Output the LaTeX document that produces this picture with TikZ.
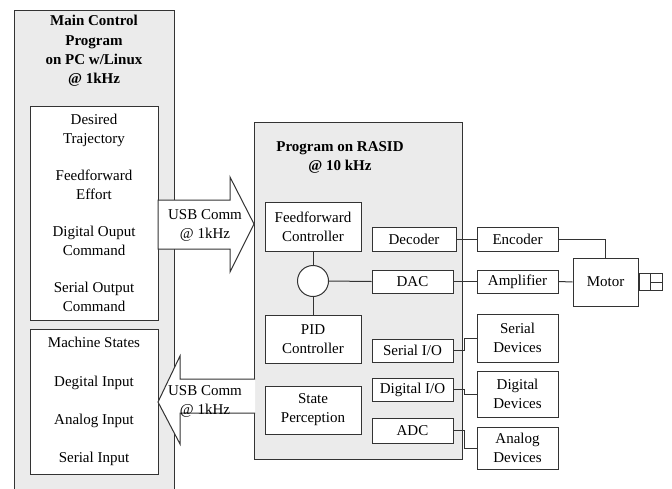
\documentclass[tikz,border=0pt]{standalone}
\usepackage{fontspec}
\setmainfont{Liberation Serif}
\usetikzlibrary{calc}
\definecolor{panelgray}{HTML}{EBEBEB}
\definecolor{edge}{HTML}{333333}
\begin{document}
\begin{tikzpicture}[x=1pt,y=-1pt,
  every node/.style={font=\fontsize{15}{19}\selectfont, inner sep=0pt, align=center},
  panel/.style={draw=edge, fill=panelgray, line width=1pt},
  blk/.style={draw=edge, fill=white, line width=1pt, rectangle},
  wire/.style={draw=edge, line width=1pt},
  usb/.style={draw=edge, fill=white, line width=1pt, line join=miter}]
\useasboundingbox[fill=white] (0,0) rectangle (672,488);

% PC side
\node[panel, minimum width=160, minimum height=490] (pc) at (94,255) {};
\node[font=\fontsize{15}{19.2}\selectfont\bfseries] (pctitle) at (94,51)
  {Main Control\\Program\\on PC w/Linux\\@ 1kHz};
\node[blk, minimum width=128, minimum height=214, font=\fontsize{15}{18.7}\selectfont] (cmds) at (94,213)
  {Desired\\Trajectory\\[18.7pt]Feedforward\\Effort\\[18.7pt]Digital Ouput\\Command\\[18.7pt]Serial Output\\Command};
\node[blk, minimum width=128, minimum height=145, font=\fontsize{15}{19.1}\selectfont] (states) at (94,401.5)
  {Machine States\\[19.1pt]Degital Input\\[19.1pt]Analog Input\\[19.1pt]Serial Input};

% RASID side
\node[panel, minimum width=208, minimum height=337] (rasid) at (358,290.5) {};
\node[font=\fontsize{15}{19}\selectfont\bfseries] (rtitle) at (340,157.5) {Program on RASID\\@ 10 kHz};

% USB links
\draw[usb] (158,200) -- (230,200) -- (230,177) -- (254,224) -- (230,272) -- (230,249) -- (158,249) -- cycle;
\node (usbout) at (205,225) {USB Comm\\@ 1kHz};
\draw[usb] (255,379) -- (180,379) -- (180,356) -- (158,402) -- (180,444) -- (180,413) -- (255,413);
\node (usbin) at (205,401.5) {USB Comm\\@ 1kHz};

% RASID blocks
\node[blk, minimum width=96, minimum height=49] (ff) at (313,226.5) {Feedforward\\Controller};
\node[draw=edge, fill=white, line width=1pt, circle, minimum size=31] (sum) at (313,281) {};
\node[blk, minimum width=96, minimum height=48] (pid) at (313,339) {PID\\Controller};
\node[blk, minimum width=96, minimum height=48] (sp) at (313,410) {State\\Perception};
\node[blk, minimum width=84, minimum height=24] (dec) at (414,239) {Decoder};
\node[blk, minimum width=81, minimum height=23] (dac) at (412.5,281.5) {DAC};
\node[blk, minimum width=81, minimum height=23] (sio) at (412.5,350.5) {Serial I/O};
\node[blk, minimum width=81, minimum height=23] (dio) at (412.5,389.5) {Digital I/O};
\node[blk, minimum width=81, minimum height=25] (adc) at (412.5,430.5) {ADC};

% Hardware
\node[blk, minimum width=81, minimum height=24] (enc) at (517.5,239) {Encoder};
\node[blk, minimum width=81, minimum height=23] (amp) at (517.5,281.5) {Amplifier};
\node[blk, minimum width=65, minimum height=48] (motor) at (605.5,282) {Motor};
\node[blk, minimum width=81, minimum height=48] (serdev) at (517.5,338) {Serial\\Devices};
\node[blk, minimum width=81, minimum height=46] (digdev) at (517.5,394) {Digital\\Devices};
\node[blk, minimum width=81, minimum height=42] (anadev) at (517.5,448) {Analog\\Devices};

% Motor shaft
\node[blk, minimum width=23, minimum height=17, anchor=west] (shaft) at (motor.east) {};
\draw[wire] ($(shaft.north west)+(12,0)$) -- ($(shaft.south west)+(12,0)$);
\draw[wire] ($(shaft.west)+(12,0)$) -- (shaft.east);

% Connections
\draw[wire] (ff.south) -- (sum.north);
\draw[wire] (sum.south) -- (pid.north);
\draw[wire] (sum.east) -- (dac.west);
\draw[wire] (dec.east) -- (enc.west);
\draw[wire] (enc.east) -| (motor.north);
\draw[wire] (dac.east) -- (amp.west);
\draw[wire] (amp.east) -- (motor.west);
\draw[wire] (sio.east) -- ++(11,0) |- (serdev.west);
\draw[wire] (dio.east) -- ++(11,0) |- (digdev.west);
\draw[wire] (adc.east) -- ++(11,0) |- (anadev.west);
\end{tikzpicture}
\end{document}
